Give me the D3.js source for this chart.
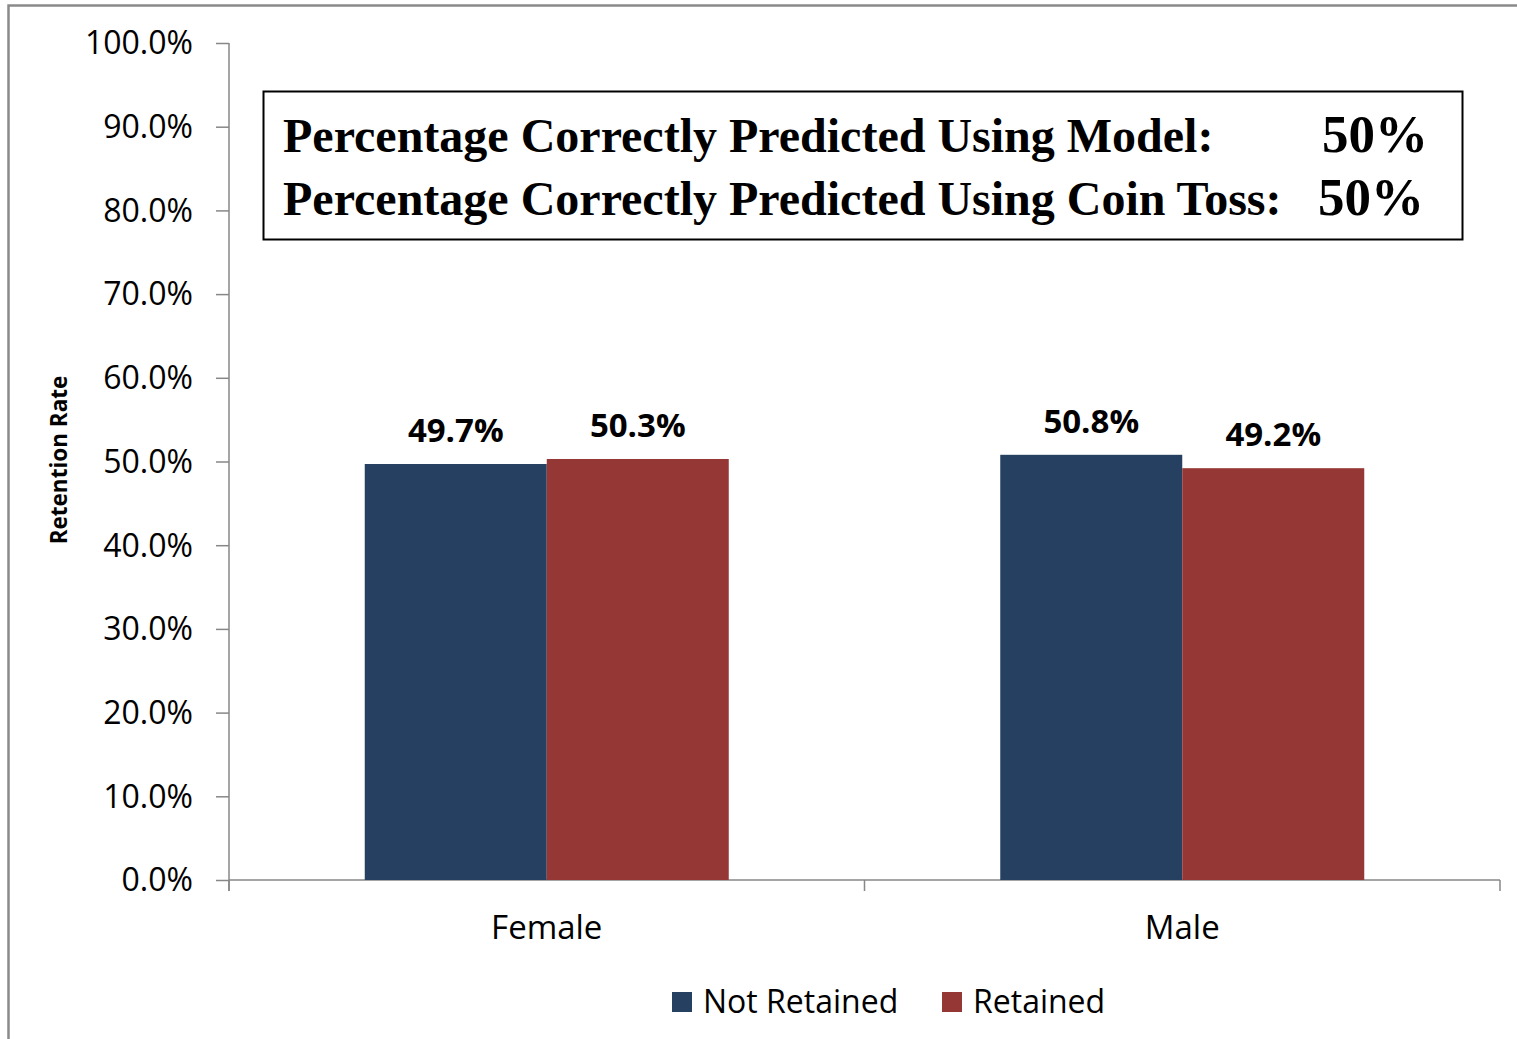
<!DOCTYPE html>
<html>
<head>
<meta charset="utf-8">
<script src="https://cdn.jsdelivr.net/npm/d3@7"></script>
<style>
  html, body { margin: 0; padding: 0; background: #fff; }
  svg { display: block; }
  .sans { font-family: "Open Sans", "Liberation Sans", sans-serif; }
  .serif { font-family: "Liberation Serif", "Times New Roman", serif; font-weight: bold; }
</style>
</head>
<body>
<svg id="chart" width="1517" height="1039"></svg>
<script>
// Retention rate by gender, split into not retained / retained
const categories = ["Female", "Male"];
const seriesNames = ["Not Retained", "Retained"];
const notRetained = [0.497, 0.508];
const retained = [0.503, 0.492];
const yTickValues = [0, 0.1, 0.2, 0.3, 0.4, 0.5, 0.6, 0.7, 0.8, 0.9, 1.0];
const seriesColors = ["#264061", "#953735"];
const summaryLines = [
  { label: "Percentage Correctly Predicted Using Model:", value: "50%" },
  { label: "Percentage Correctly Predicted Using Coin Toss:", value: "50%" }
];

const svg = d3.select("#chart");
const axisColor = "#878787";

// outer chart frame
svg.append("rect")
  .attr("x", 8.5).attr("y", 5.5)
  .attr("width", 1530).attr("height", 1050)
  .attr("fill", "none").attr("stroke", "#8a8a8a").attr("stroke-width", 2.5);

const plot = { left: 229, right: 1500, top: 43, bottom: 880 };

const y = d3.scaleLinear().domain([0, 1]).range([plot.bottom, plot.top]);
const x0 = d3.scaleBand().domain(categories).range([plot.left, plot.right]).padding(0);
const groupWidth = 364;
const x1 = d3.scaleBand().domain(seriesNames)
  .range([(x0.bandwidth() - groupWidth) / 2, (x0.bandwidth() + groupWidth) / 2]).padding(0);
const color = d3.scaleOrdinal().domain(seriesNames).range(seriesColors);

// y axis
const yAxis = d3.axisLeft(y).tickValues(yTickValues).tickSize(13).tickPadding(23)
  .tickFormat(d3.format(".1%"));
const gy = svg.append("g").attr("transform", `translate(${plot.left},0)`).call(yAxis);
gy.select(".domain").remove();
gy.selectAll(".tick line").attr("stroke", axisColor).attr("stroke-width", 1.5);
gy.selectAll(".tick text").attr("class", "sans").attr("font-size", 32).attr("fill", "#000")
  .attr("dy", "0.34em");
svg.append("line")
  .attr("x1", plot.left).attr("x2", plot.left)
  .attr("y1", plot.top).attr("y2", plot.bottom + 11)
  .attr("stroke", axisColor).attr("stroke-width", 1.5);

// x axis
svg.append("line")
  .attr("x1", plot.left).attr("x2", plot.right)
  .attr("y1", plot.bottom).attr("y2", plot.bottom)
  .attr("stroke", axisColor).attr("stroke-width", 1.5);
const boundaries = categories.map(c => x0(c) + x0.bandwidth()).concat([plot.left]);
svg.selectAll(".xtick").data(boundaries).join("line")
  .attr("x1", d => d).attr("x2", d => d)
  .attr("y1", plot.bottom).attr("y2", plot.bottom + 11)
  .attr("stroke", axisColor).attr("stroke-width", 1.5);
svg.selectAll(".xlabel").data(categories).join("text")
  .attr("class", "sans")
  .attr("x", d => x0(d) + x0.bandwidth() / 2)
  .attr("y", 939)
  .attr("text-anchor", "middle")
  .attr("font-size", 33)
  .text(d => d);

// bars
const rows = categories.map((c, i) => ({
  category: c,
  values: [
    { series: seriesNames[0], value: notRetained[i] },
    { series: seriesNames[1], value: retained[i] }
  ]
}));
const groups = svg.selectAll(".group").data(rows).join("g")
  .attr("transform", d => `translate(${x0(d.category)},0)`);
groups.selectAll("rect").data(d => d.values).join("rect")
  .attr("x", d => x1(d.series))
  .attr("y", d => y(d.value))
  .attr("width", x1.bandwidth())
  .attr("height", d => y(0) - y(d.value))
  .attr("fill", d => color(d.series));
groups.selectAll("text").data(d => d.values).join("text")
  .attr("class", "sans")
  .attr("x", d => x1(d.series) + x1.bandwidth() / 2)
  .attr("y", d => y(d.value) - 22)
  .attr("text-anchor", "middle")
  .attr("font-size", 33)
  .attr("font-weight", "bold")
  .text(d => d3.format(".1%")(d.value));

// y axis title
svg.append("text")
  .attr("class", "sans")
  .attr("transform", "translate(67,460) rotate(-90)")
  .attr("text-anchor", "middle")
  .attr("font-size", 22.5)
  .attr("font-weight", "bold")
  .text("Retention Rate");

// summary box
svg.append("rect")
  .attr("x", 263.5).attr("y", 91.5)
  .attr("width", 1199).attr("height", 148)
  .attr("fill", "#fff").attr("stroke", "#000").attr("stroke-width", 2);
const valueX = [1322, 1318];
const baselines = [152, 215];
summaryLines.forEach((s, i) => {
  svg.append("text").attr("class", "serif")
    .attr("x", 283).attr("y", baselines[i])
    .attr("font-size", 48).text(s.label);
  svg.append("text").attr("class", "serif")
    .attr("x", valueX[i]).attr("y", baselines[i])
    .attr("font-size", 53).text(s.value);
});

// legend
const legendX = [672, 942];
const legend = svg.selectAll(".legend").data(seriesNames).join("g")
  .attr("transform", (d, i) => `translate(${legendX[i]},992)`);
legend.append("rect")
  .attr("width", 20).attr("height", 20)
  .attr("fill", d => color(d));
legend.append("text")
  .attr("class", "sans")
  .attr("x", 31).attr("y", 21)
  .attr("font-size", 32)
  .text(d => d);
</script>
</body>
</html>
